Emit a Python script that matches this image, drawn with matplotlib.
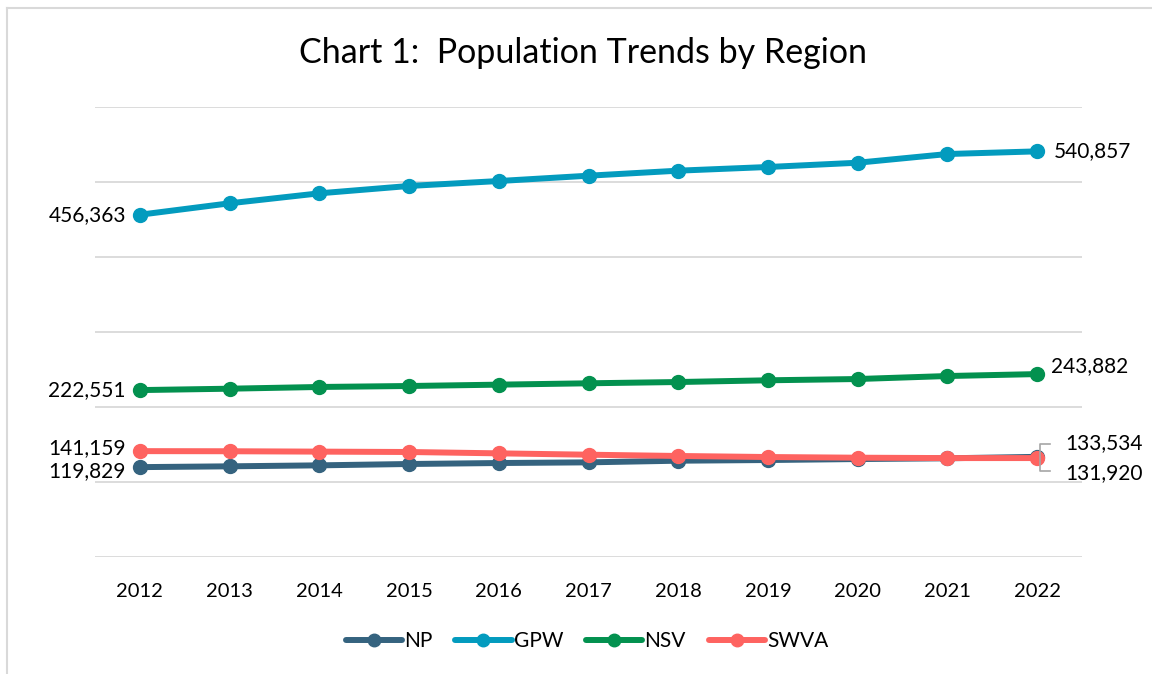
import matplotlib.pyplot as plt
from matplotlib.lines import Line2D

years = ["2012", "2013", "2014", "2015", "2016", "2017", "2018", "2019", "2020", "2021", "2022"]

np_pop = [119829, 120900, 122200, 124000, 125300, 126200, 128400, 129300, 130600, 131600, 133534]
gpw_pop = [456363, 471600, 484900, 494700, 501300, 508400, 515100, 520000, 525700, 537300, 540857]
nsv_pop = [222551, 224400, 226700, 228000, 229800, 231600, 233300, 235600, 237300, 241300, 243882]
swva_pop = [141159, 141000, 140500, 140000, 138200, 136400, 134700, 133300, 132400, 131900, 131920]

series = [("NP", np_pop, "#35637F"), ("GPW", gpw_pop, "#039BBE"),
          ("NSV", nsv_pop, "#03914F"), ("SWVA", swva_pop, "#FE6360")]

plt.rcParams['font.family'] = ['Lato', 'DejaVu Sans']

fig = plt.figure(figsize=(11.52, 6.74), dpi=100)
ax = fig.add_axes([95 / 1152, 1 - 557 / 674, 987 / 1152, 450 / 674])

x = list(range(len(years)))
for name, vals, col in series:
    ax.plot(x, vals, color=col, lw=4.3, marker="o", ms=10, label=name,
            solid_capstyle="round")

ax.set_xlim(-0.5, len(years) - 0.5)
ax.set_ylim(0, 600000)
ax.set_yticks(range(0, 600001, 100000))
ax.set_yticklabels([])
ax.tick_params(axis="y", length=0)
ax.tick_params(axis="x", length=0, labelsize=14.5, pad=19)
ax.set_xticks(x)
ax.set_xticklabels(years)
ax.grid(axis="y", color="#D9D9D9", lw=1.3)
ax.set_axisbelow(True)
for s in ax.spines.values():
    s.set_visible(False)

# start labels
lab = dict(fontsize=15, va="center")
ax.annotate(f"{gpw_pop[0]:,}", (0, gpw_pop[0]), xytext=(-10, 0), textcoords="offset points", ha="right", **lab)
ax.annotate(f"{nsv_pop[0]:,}", (0, nsv_pop[0]), xytext=(-10, 0), textcoords="offset points", ha="right", **lab)
ax.annotate(f"{swva_pop[0]:,}", (0, swva_pop[0]), xytext=(-10, 2), textcoords="offset points", ha="right", **lab)
ax.annotate(f"{np_pop[0]:,}", (0, np_pop[0]), xytext=(-10, -3), textcoords="offset points", ha="right", **lab)
# end labels
ax.annotate(f"{gpw_pop[-1]:,}", (10, gpw_pop[-1]), xytext=(12, 0), textcoords="offset points", ha="left", **lab)
ax.annotate(f"{nsv_pop[-1]:,}", (10, nsv_pop[-1]), xytext=(10, 6), textcoords="offset points", ha="left", **lab)
ax.annotate(f"{np_pop[-1]:,}", (10, np_pop[-1]), xytext=(20, 10), textcoords="offset points", ha="left", **lab)
ax.annotate(f"{swva_pop[-1]:,}", (10, swva_pop[-1]), xytext=(20, -11), textcoords="offset points", ha="left", **lab)

# bracket leader for the two end labels
gray = "#A6A6A6"
fig.add_artist(Line2D([1050 / 1152, 1040 / 1152, 1040 / 1152, 1050 / 1152],
                      [1 - 444 / 674, 1 - 444 / 674, 1 - 471 / 674, 1 - 471 / 674],
                      color=gray, lw=1.2))

fig.text(583 / 1152, 1 - 53 / 674, "Chart 1:  Population Trends by Region",
         ha="center", va="center", fontsize=24.5)

ax.legend(loc="center", bbox_to_anchor=(587 / 1152, 1 - 641 / 674), bbox_transform=fig.transFigure,
          ncol=4, frameon=False, fontsize=15, handlelength=2.7, columnspacing=1.1,
          handletextpad=0.1, markerscale=0.9)

# chart border (top and left visible)
bc = "#D9D9D9"
fig.add_artist(Line2D([7 / 1152, 1.0], [1 - 8 / 674, 1 - 8 / 674], color=bc, lw=1.5))
fig.add_artist(Line2D([7 / 1152, 7 / 1152], [0, 1 - 8 / 674], color=bc, lw=1.5))

fig.savefig("out.png", dpi=100, facecolor="white")
